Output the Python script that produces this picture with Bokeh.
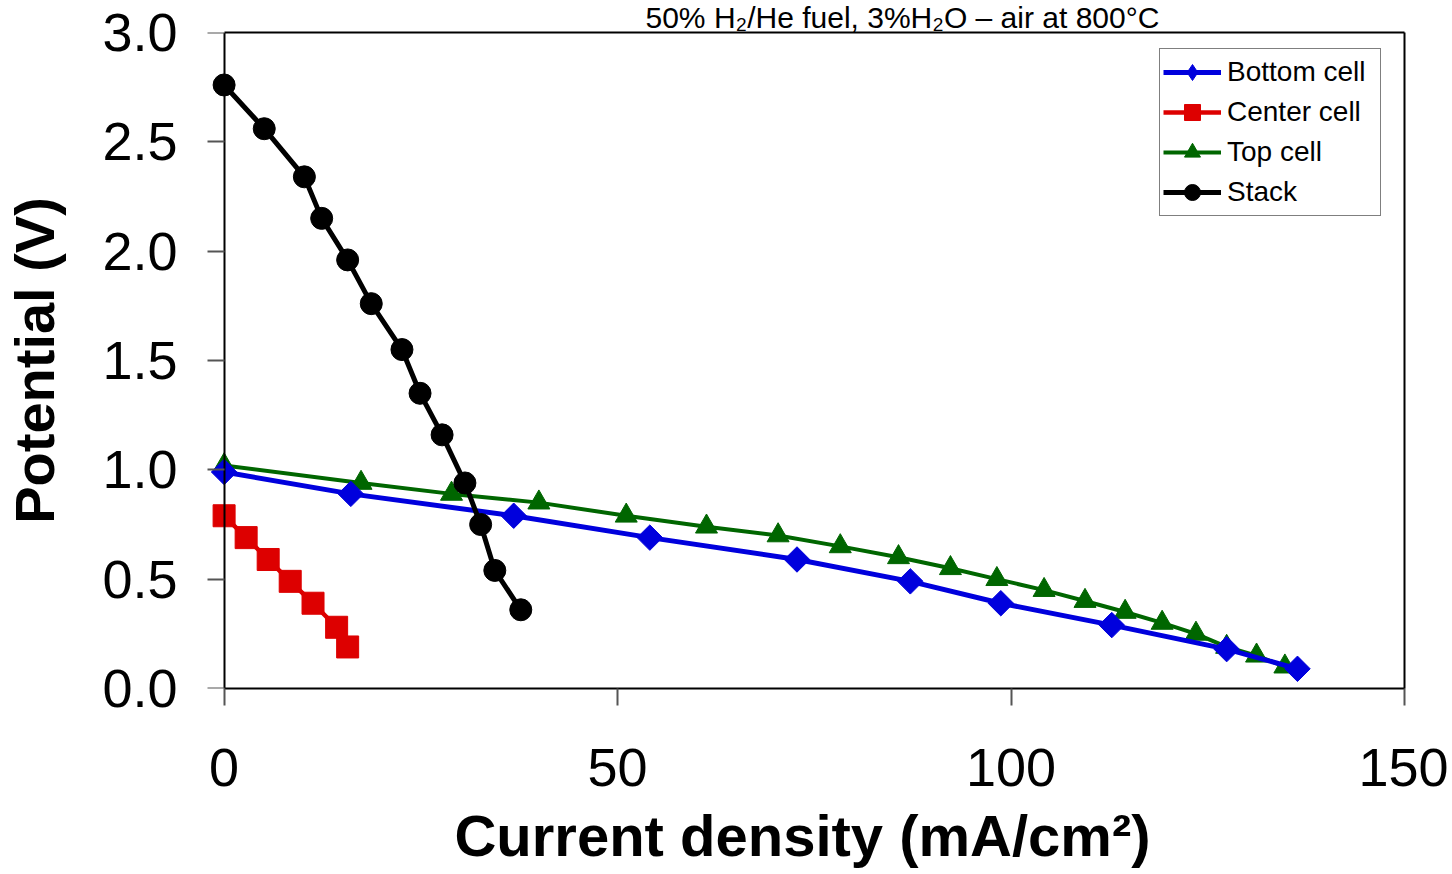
import math
from bokeh.plotting import figure
from bokeh.models import (Range1d, Legend, LegendItem, FixedTicker, Title,
                          LinearAxis, PrintfTickFormatter)
from bokeh.embed import file_html
from bokeh.resources import INLINE

# ---- data ----
bottom_x = [0, 16.1, 36.8, 54.1, 72.8, 87.2, 98.7, 112.8, 127.4, 136.4]
bottom_y = [0.99, 0.89, 0.79, 0.69, 0.59, 0.49, 0.39, 0.29, 0.18, 0.09]

center_x = [0, 2.8, 5.6, 8.4, 11.3, 14.3, 15.7]
center_y = [0.79, 0.69, 0.59, 0.49, 0.39, 0.28, 0.19]

top_x = [0, 17.4, 28.9, 40.0, 51.1, 61.3, 70.4, 78.3, 85.7, 92.3,
         98.2, 104.2, 109.4, 114.5, 119.2, 123.5, 127.4, 131.2, 134.8]
top_y = [1.02, 0.94, 0.89, 0.85, 0.79, 0.74, 0.70, 0.65, 0.60, 0.55,
         0.50, 0.45, 0.40, 0.35, 0.30, 0.25, 0.19, 0.15, 0.10]

stack_x = [0, 5.1, 10.2, 12.4, 15.7, 18.7, 22.6, 24.9, 27.7, 30.6, 32.6, 34.4, 37.7]
stack_y = [2.76, 2.56, 2.34, 2.15, 1.96, 1.76, 1.55, 1.35, 1.16, 0.94, 0.75, 0.54, 0.36]

x_ticks = [0, 50, 100, 150]
y_ticks = [0.0, 0.5, 1.0, 1.5, 2.0, 2.5, 3.0]

series_names = ["Bottom cell", "Center cell", "Top cell", "Stack"]
title_text = "50% H\u2082/He fuel, 3%H\u2082O \u2013 air at 800\u00b0C"
x_label = "Current density (mA/cm\u00b2)"
y_label = "Potential (V)"

BLUE = "#0000dd"
RED = "#dd0000"
GREEN = "#006600"
BLACK = "#000000"
FONT = "Liberation Sans"

p = figure(width=1448, height=870, output_backend="svg", toolbar_location=None,
           x_range=Range1d(-3, 150), y_range=Range1d(0, 3),
           min_border_left=198, min_border_right=44, min_border_top=32,
           min_border_bottom=180, x_axis_location=None, y_axis_location=None)
p.background_fill_color = "white"
p.border_fill_color = "white"
p.outline_line_color = None
p.xgrid.visible = False
p.ygrid.visible = False

# title, kept in the thin strip above the plot frame
p.title = Title(text=title_text, text_font=FONT, text_font_size="30px",
                text_font_style="normal", text_color="black", align="left",
                vertical_align="top", offset=445, standoff=-7)

# bottom axis (line only from 0 to 150)
xa = LinearAxis(ticker=FixedTicker(ticks=x_ticks), bounds=(0, 150))
xa.axis_label = x_label
xa.axis_line_color = "black"
xa.axis_line_width = 2
xa.major_tick_line_color = "#555555"
xa.major_tick_line_width = 2
xa.major_tick_in = 0
xa.major_tick_out = 17
xa.minor_tick_line_color = None
xa.major_label_text_font = FONT
xa.major_label_text_font_size = "54px"
xa.major_label_text_color = "black"
xa.major_label_standoff = 43
xa.axis_label_text_font = FONT
xa.axis_label_text_font_style = "bold"
xa.axis_label_text_font_size = "58px"
xa.axis_label_text_color = "black"
xa.axis_label_standoff = 14
p.add_layout(xa, "below")

# left axis line + ticks drawn at x = 0
ya_line = LinearAxis(ticker=FixedTicker(ticks=y_ticks), fixed_location=0,
                     major_label_overrides={t: "" for t in y_ticks})
ya_line.axis_line_color = "black"
ya_line.axis_line_width = 2
ya_line.major_tick_line_color = "#555555"
ya_line.major_tick_line_width = 2
ya_line.major_tick_in = 0
ya_line.major_tick_out = 17
ya_line.minor_tick_line_color = None
p.add_layout(ya_line, "left")

# left tick labels and title of the axis
ya = LinearAxis(ticker=FixedTicker(ticks=y_ticks),
                formatter=PrintfTickFormatter(format="%.1f"))
ya.axis_label = y_label
ya.axis_line_color = None
ya.major_tick_line_color = None
ya.minor_tick_line_color = None
ya.major_tick_out = 0
ya.major_tick_in = 0
ya.major_label_text_font = FONT
ya.major_label_text_font_size = "54px"
ya.major_label_text_color = "black"
ya.major_label_standoff = 23
ya.axis_label_text_font = FONT
ya.axis_label_text_font_style = "bold"
ya.axis_label_text_font_size = "56px"
ya.axis_label_text_color = "black"
ya.axis_label_standoff = 33
p.add_layout(ya, "left")

# top and right frame lines
ta = LinearAxis(ticker=FixedTicker(ticks=[]), bounds=(0, 150))
ra = LinearAxis(ticker=FixedTicker(ticks=[]))
for ax in (ta, ra):
    ax.axis_line_color = "black"
    ax.axis_line_width = 2
    ax.major_tick_line_color = None
    ax.minor_tick_line_color = None
    ax.major_label_text_font_size = "0px"
    ax.major_label_standoff = 0
p.add_layout(ta, "above")
p.add_layout(ra, "right")

# series
g_line = p.line(top_x, top_y, line_color=GREEN, line_width=4)
g_pts = p.scatter(top_x, top_y, marker="triangle", size=22, fill_color=GREEN,
                  line_color=GREEN)
b_line = p.line(bottom_x, bottom_y, line_color=BLUE, line_width=5)
b_pts = p.scatter(bottom_x, bottom_y, marker="square", angle=math.pi / 4, size=18,
                  fill_color=BLUE, line_color=BLUE)
r_line = p.line(center_x, center_y, line_color=RED, line_width=4.5)
r_pts = p.scatter(center_x, center_y, marker="square", size=22, fill_color=RED,
                  line_color=RED)
k_line = p.line(stack_x, stack_y, line_color=BLACK, line_width=5)
k_pts = p.scatter(stack_x, stack_y, marker="circle", size=22, fill_color=BLACK,
                  line_color=BLACK)

# legend-only diamond for the bottom cell
nan = float("nan")
b_leg = p.scatter([nan], [nan], marker="diamond", size=18, fill_color=BLUE,
                  line_color=BLUE)

legend = Legend(items=[
    LegendItem(label=series_names[0], renderers=[b_line, b_leg]),
    LegendItem(label=series_names[1], renderers=[r_line, r_pts]),
    LegendItem(label=series_names[2], renderers=[g_line, g_pts]),
    LegendItem(label=series_names[3], renderers=[k_line, k_pts]),
], location=(959, 472))
legend.label_text_font = FONT
legend.label_text_font_size = "28px"
legend.label_text_color = "black"
legend.glyph_height = 40
legend.label_height = 40
legend.glyph_width = 58
legend.label_width = 150
legend.spacing = 0
legend.padding = 3
legend.label_standoff = 6
legend.margin = 0
legend.border_line_color = "black"
legend.border_line_width = 1.5
legend.background_fill_color = "white"
legend.background_fill_alpha = 1
p.add_layout(legend)

open("out.html", "w").write(file_html(p, INLINE))
